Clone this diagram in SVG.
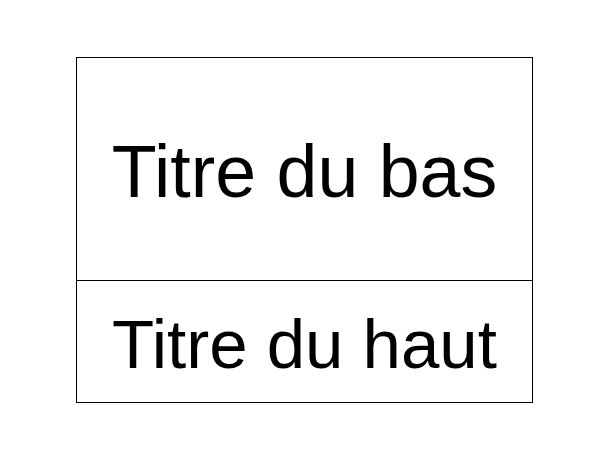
<svg xmlns="http://www.w3.org/2000/svg" width="610" height="460" viewBox="0 0 610 460">
<style>
.cell{fill:#ffffff;stroke:#000000;stroke-width:1}
.lbl{font-family:"Liberation Sans",Arial,sans-serif;fill:#000000;text-anchor:middle}
</style>
<rect x="0" y="0" width="610" height="460" fill="#ffffff"/>
<g id="connectors"></g>
<g id="node-bas">
<rect class="cell" x="76.5" y="57.5" width="456" height="223"/>
<text class="lbl" x="304.5" y="197" font-size="73.5">Titre du bas</text>
</g>
<g id="node-haut">
<rect class="cell" x="76.5" y="280.5" width="456" height="122"/>
<text class="lbl" x="304.5" y="367.5" font-size="69">Titre du haut</text>
</g>
</svg>
